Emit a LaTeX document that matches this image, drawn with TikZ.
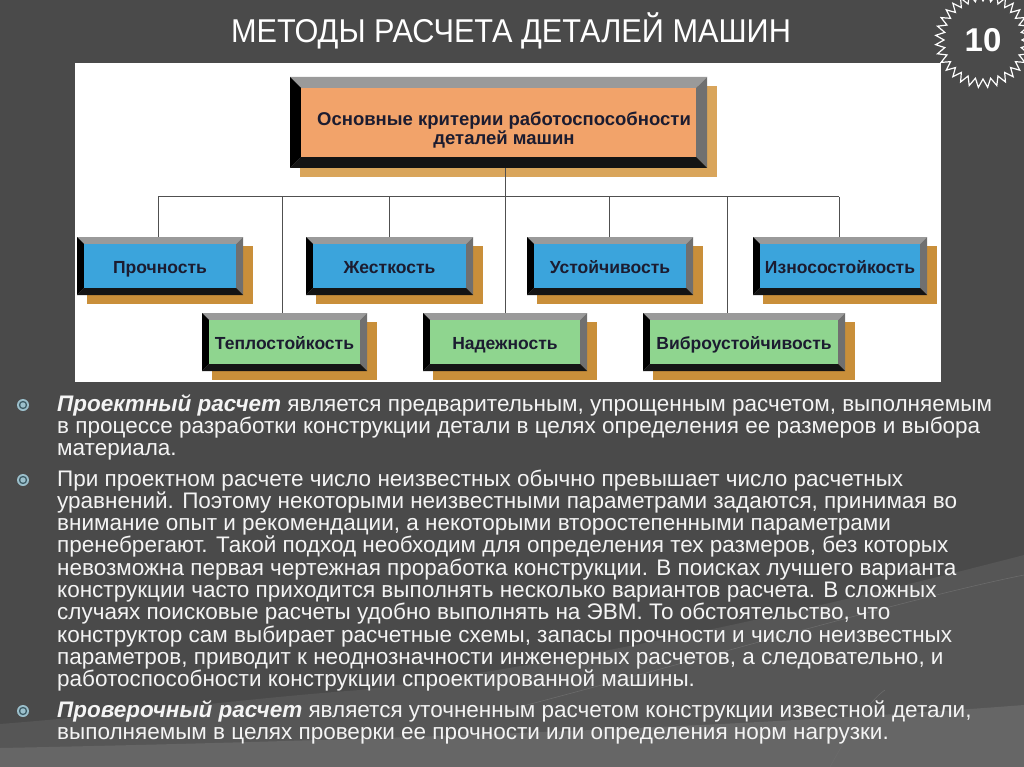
\documentclass[tikz,border=0pt]{standalone}
\usepackage{fontspec}
\usepackage{graphicx}
\setmainfont{Liberation Sans}
\usetikzlibrary{calc,shapes.geometric}
\definecolor{bgc}{HTML}{4A4A4A}
\definecolor{bglight}{HTML}{565656}
\definecolor{bglighter}{HTML}{666666}
\definecolor{orangef}{HTML}{F2A36A}
\definecolor{blueface}{HTML}{3BA4DC}
\definecolor{greenface}{HTML}{8FD58F}
\definecolor{shadowtop}{HTML}{D9A55B}
\definecolor{shadowc}{HTML}{C98F3A}
\definecolor{bevtop}{HTML}{9A9A9A}
\definecolor{bevright}{HTML}{707070}
\definecolor{boxtxt}{HTML}{1C1C30}
\definecolor{linec}{HTML}{505050}
\definecolor{bodytxt}{HTML}{F4F4F4}
\definecolor{bulouter}{HTML}{9CC0CC}
\definecolor{bulinner}{HTML}{3E5C66}
% bevelled box graphics: #1 cx, #2 cy, #3 w, #4 h, #5 face, #6 shadow, #7 bevel
\newcommand\bevelshape[7]{%
 \fill[#6] ({#1-#3/2+10},{#2-#4/2+9}) rectangle ({#1+#3/2+10},{#2+#4/2+9});
 \fill[bevtop] ({#1-#3/2},{#2-#4/2}) -- ({#1+#3/2},{#2-#4/2}) -- ({#1+#3/2-#7},{#2-#4/2+#7}) -- ({#1-#3/2+#7},{#2-#4/2+#7}) -- cycle;
 \fill[bevright] ({#1+#3/2},{#2-#4/2}) -- ({#1+#3/2},{#2+#4/2}) -- ({#1+#3/2-#7},{#2+#4/2-#7}) -- ({#1+#3/2-#7},{#2-#4/2+#7}) -- cycle;
 \fill[black!92] ({#1-#3/2},{#2+#4/2}) -- ({#1+#3/2},{#2+#4/2}) -- ({#1+#3/2-#7},{#2+#4/2-#7}) -- ({#1-#3/2+#7},{#2+#4/2-#7}) -- cycle;
 \fill[black] ({#1-#3/2},{#2-#4/2}) -- ({#1-#3/2+#7},{#2-#4/2+#7}) -- ({#1-#3/2+#7},{#2+#4/2-#7}) -- ({#1-#3/2},{#2+#4/2}) -- cycle;
 \fill[#5] ({#1-#3/2+#7},{#2-#4/2+#7}) rectangle ({#1+#3/2-#7},{#2+#4/2-#7});
}
% small criterion box: #1 name, #2 cx, #3 cy, #4 w, #5 face, #6 text
\newcommand\critbox[6]{%
 \bevelshape{#2}{#3}{#4}{58}{#5}{shadowc}{7}
 \node[boxframe, minimum width=#4, minimum height=58] (#1) at (#2,#3) {};
 \node[boxlabel, anchor=base] (#1-t) at ($(#1.center)+(0,7)$) {#6};
}
\newcommand\bodyline[3]{\node[bodyline] (#1) at (57,#2) {#3};}
\newcommand\bulletmark[2]{%
 \fill[bulouter] (23,#2) circle (6);
 \fill[bulinner] (23,#2) circle (4.2);
 \fill[bulouter] (23,#2) circle (2.7);
 \coordinate (#1) at (23,#2);
}
\tikzset{
 boxframe/.style={inner sep=0pt, draw=none},
 boxlabel/.style={inner sep=0pt, text=boxtxt, font=\bfseries\fontsize{17.5}{19}\selectfont},
 bodyline/.style={anchor=base west, inner sep=0pt, text=bodytxt, font=\fontsize{22.5}{24}\selectfont},
 conn/.style={draw=linec, line width=1pt},
}
\begin{document}
\begin{tikzpicture}[x=1pt,y=-1pt]
\useasboundingbox (0,0) rectangle (1024,767);
% background
\fill[bgc] (0,0) rectangle (1024,767);
\fill[bglight] (0,724) .. controls (150,712) and (250,698) .. (360,690) .. controls (600,660) and (850,600) .. (1024,555) -- (1024,767) -- (0,767) -- cycle;
\fill[bglighter] (0,748) .. controls (300,742) and (700,730) .. (1024,705) -- (1024,767) -- (0,767) -- cycle;
\draw[white!18!bgc, line width=0.6pt] (500,712) .. controls (700,660) and (900,600) .. (1024,575);
\draw[white!18!bgc, line width=0.6pt] (830,767) .. controls (850,730) and (870,700) .. (885,690);
% title
\node[text=white, font=\fontsize{33}{36}\selectfont, inner sep=0pt] (title) at (511,31) {\scalebox{0.93}[1]{МЕТОДЫ РАСЧЕТА ДЕТАЛЕЙ МАШИН}};
% badge
\node[star, star points=32, star point ratio=0.82, minimum size=78pt, inner sep=0pt, draw=white, line width=1.2pt, fill=bgc, text=white, font=\bfseries\fontsize{33}{36}\selectfont] (badge) at (983,40) {10};
% panel
\fill[white] (75,63) rectangle (941,382);
% top box
\bevelshape{498.5}{122.5}{417}{91}{orangef}{shadowtop}{11}
\node[boxframe, minimum width=417, minimum height=91] (top) at (498.5,122.5) {};
\node[inner sep=0pt, text=boxtxt, font=\bfseries\fontsize{18.5}{19}\selectfont, align=center] (top-t) at (504,130) {Основные критерии работоспособности\\ деталей машин};
% criterion boxes
\critbox{proch}{160}{266}{166}{blueface}{Прочность}
\critbox{zhest}{389.5}{266}{167}{blueface}{Жесткость}
\critbox{ustoi}{610}{266}{166}{blueface}{Устойчивость}
\critbox{iznos}{840}{266}{174}{blueface}{Износостойкость}
\critbox{teplo}{284.5}{342}{165}{greenface}{Теплостойкость}
\critbox{nadezh}{505}{342}{164}{greenface}{Надежность}
\critbox{vibro}{744}{342}{202}{greenface}{Виброустойчивость}
% connectors
\coordinate (d1) at (158,197);
\coordinate (d2) at (282,197);
\coordinate (d3) at (389,197);
\coordinate (d4) at (505,197);
\coordinate (d5) at (609,197);
\coordinate (d6) at (727,197);
\coordinate (d7) at (839,197);
\draw[conn] (d4 |- top.south) -- (d4 |- nadezh.north);
\draw[conn] (d1) -- (d7);
\draw[conn] (d1) -- (d1 |- proch.north);
\draw[conn] (d2) -- (d2 |- teplo.north);
\draw[conn] (d3) -- (d3 |- zhest.north);
\draw[conn] (d5) -- (d5 |- ustoi.north);
\draw[conn] (d6) -- (d6 |- vibro.north);
\draw[conn] (d7) -- (d7 |- iznos.north);
% body text
\bulletmark{m1}{405}
\bodyline{l1}{411}{\textbf{\textit{Проектный расчет}} является предварительным, упрощенным расчетом, выполняемым}
\bodyline{l2}{433.3}{в процессе разработки конструкции детали в целях определения ее размеров и выбора}
\bodyline{l3}{455.6}{материала.}
\bulletmark{m2}{480}
\bodyline{l4}{486}{При проектном расчете число неизвестных обычно превышает число расчетных}
\bodyline{l5}{508.3}{уравнений. Поэтому некоторыми неизвестными параметрами задаются, принимая во}
\bodyline{l6}{530.6}{внимание опыт и рекомендации, а некоторыми второстепенными параметрами}
\bodyline{l7}{552.9}{пренебрегают. Такой подход необходим для определения тех размеров, без которых}
\bodyline{l8}{575.2}{невозможна первая чертежная проработка конструкции. В поисках лучшего варианта}
\bodyline{l9}{597.5}{конструкции часто приходится выполнять несколько вариантов расчета. В сложных}
\bodyline{l10}{619.8}{случаях поисковые расчеты удобно выполнять на ЭВМ. То обстоятельство, что}
\bodyline{l11}{642.1}{конструктор сам выбирает расчетные схемы, запасы прочности и число неизвестных}
\bodyline{l12}{664.4}{параметров, приводит к неоднозначности инженерных расчетов, а следовательно, и}
\bodyline{l13}{686.7}{работоспособности конструкции спроектированной машины.}
\bulletmark{m3}{711}
\bodyline{l14}{717}{\textbf{\textit{Проверочный расчет}} является уточненным расчетом конструкции известной детали,}
\bodyline{l15}{739.3}{выполняемым в целях проверки ее прочности или определения норм нагрузки.}
\end{tikzpicture}
\end{document}
